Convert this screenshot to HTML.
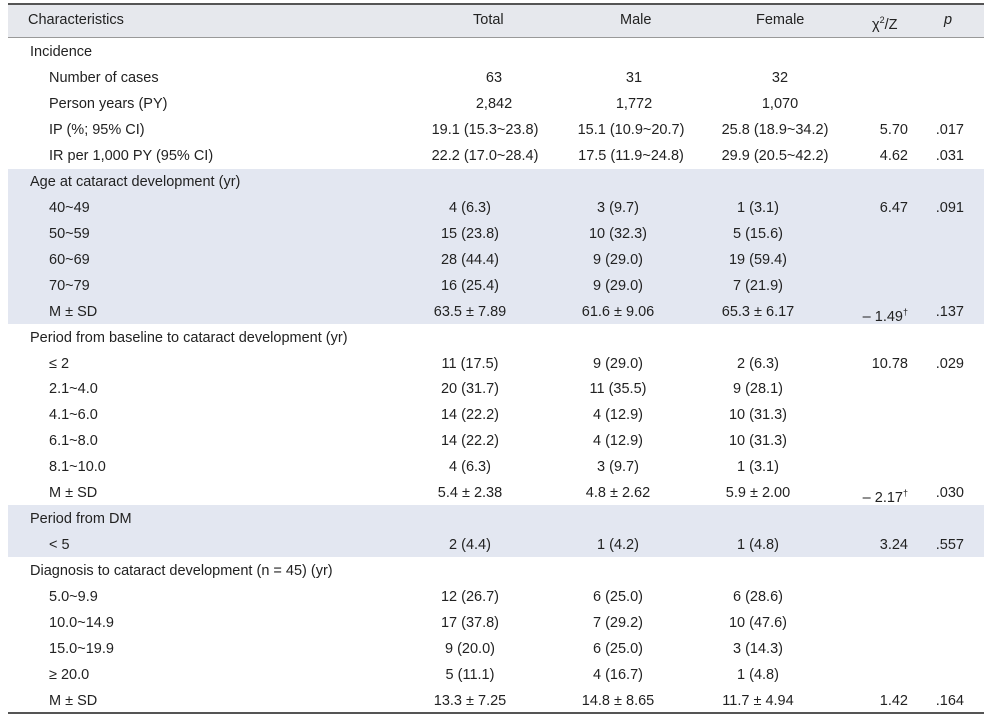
<!DOCTYPE html>
<html><head><meta charset="utf-8">
<style>
html,body{margin:0;padding:0;background:#fff;}
#t{position:relative;width:984px;height:717px;font-family:"Liberation Sans",sans-serif;font-size:14.5px;color:#222;overflow:hidden;}
.c{position:absolute;white-space:nowrap;line-height:20px;}
.band{position:absolute;left:8px;width:976px;background:#e3e7f1;}
.line{position:absolute;left:8px;width:976px;background:#555;}
</style></head><body>
<div id="t">
  <div class="band" style="top:4px;height:33px;background:#e6e8ed"></div>
  <div class="band" style="top:169px;height:155px"></div>
  <div class="band" style="top:505px;height:52px"></div>
  <div class="line" style="top:3px;height:1.5px"></div>
  <div class="line" style="top:37px;height:1px;background:#999"></div>
  <div class="line" style="top:712px;height:1.5px"></div>
  <div class="c" style="left:28px;top:10px">Characteristics</div>
  <div class="c" style="left:473px;top:10px">Total</div>
  <div class="c" style="left:620px;top:10px">Male</div>
  <div class="c" style="left:756px;top:10px">Female</div>
  <div class="c" style="left:872px;top:10px">χ<sup style="font-size:9px">2</sup>/Z</div>
  <div class="c" style="left:944px;top:10px;font-style:italic">p</div>
</div>
<script>
const labels=["Incidence","Number of cases","Person years (PY)","IP (%; 95% CI)","IR per 1,000 PY (95% CI)","Age at cataract development (yr)","40~49","50~59","60~69","70~79","M ± SD","Period from baseline to cataract development (yr)","≤ 2","2.1~4.0","4.1~6.0","6.1~8.0","8.1~10.0","M ± SD","Period from DM","< 5","Diagnosis to cataract development (n = 45) (yr)","5.0~9.9","10.0~14.9","15.0~19.9","≥ 20.0","M ± SD"];
const levels=[0,1,1,1,1,0,1,1,1,1,1,0,1,1,1,1,1,1,0,1,0,1,1,1,1,1];
const kinds=["s","n","n","ci","ci","s","d","d","d","d","d","s","d","d","d","d","d","d","s","d","s","d","d","d","d","d"];
const total=["","63","2,842","19.1 (15.3~23.8)","22.2 (17.0~28.4)","","4 (6.3)","15 (23.8)","28 (44.4)","16 (25.4)","63.5 ± 7.89","","11 (17.5)","20 (31.7)","14 (22.2)","14 (22.2)","4 (6.3)","5.4 ± 2.38","","2 (4.4)","","12 (26.7)","17 (37.8)","9 (20.0)","5 (11.1)","13.3 ± 7.25"];
const male=["","31","1,772","15.1 (10.9~20.7)","17.5 (11.9~24.8)","","3 (9.7)","10 (32.3)","9 (29.0)","9 (29.0)","61.6 ± 9.06","","9 (29.0)","11 (35.5)","4 (12.9)","4 (12.9)","3 (9.7)","4.8 ± 2.62","","1 (4.2)","","6 (25.0)","7 (29.2)","6 (25.0)","4 (16.7)","14.8 ± 8.65"];
const female=["","32","1,070","25.8 (18.9~34.2)","29.9 (20.5~42.2)","","1 (3.1)","5 (15.6)","19 (59.4)","7 (21.9)","65.3 ± 6.17","","2 (6.3)","9 (28.1)","10 (31.3)","10 (31.3)","1 (3.1)","5.9 ± 2.00","","1 (4.8)","","6 (28.6)","10 (47.6)","3 (14.3)","1 (4.8)","11.7 ± 4.94"];
const chi=["","","","5.70","4.62","","6.47","","","","– 1.49†","","10.78","","","","","– 2.17†","","3.24","","","","","","1.42"];
const pval=["","","",".017",".031","",".091","","","",".137","",".029","","","","",".030","",".557","","","","","",".164"];
const t=document.getElementById('t');
const centers={n:[494,634,780],ci:[485,631,775],d:[470,618,758],s:[470,618,758]};
function addCell(txt,style,name){
  if(!txt)return;
  const d=document.createElement('div');
  d.className='c';
  
  
  d.style.cssText=style;
  if(txt.endsWith('†')){d.innerHTML=txt.slice(0,-1)+'<sup style="font-size:9px">†</sup>';}else{d.textContent=txt;}
  t.appendChild(d);
}
for(let i=0;i<labels.length;i++){
  const top=52+25.96*i-10;
  const cx=centers[kinds[i]];
  addCell(labels[i],`left:${levels[i]?49:30}px;top:${top}px`,'row-label');
  addCell(total[i],`left:${cx[0]}px;top:${top}px;transform:translateX(-50%)`,'total-cell');
  addCell(male[i],`left:${cx[1]}px;top:${top}px;transform:translateX(-50%)`,'male-cell');
  addCell(female[i],`left:${cx[2]}px;top:${top}px;transform:translateX(-50%)`,'female-cell');
  addCell(chi[i],`right:${984-908}px;top:${top}px`,'chi-z-cell');
  addCell(pval[i],`right:${984-964}px;top:${top}px`,'p-value-cell');
}
</script>
</body></html>
